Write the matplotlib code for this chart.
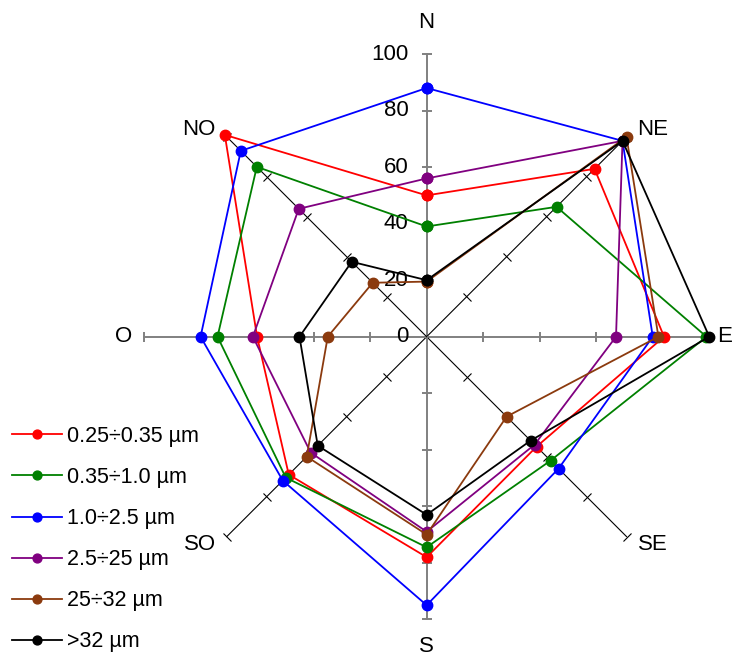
import numpy as np
import matplotlib.pyplot as plt
from matplotlib.markers import MarkerStyle
from matplotlib.transforms import Affine2D

plt.rcParams['font.family'] = ['Liberation Sans', 'DejaVu Sans']

# directions (clockwise from north)
directions = ['N', 'NE', 'E', 'SE', 'S', 'SO', 'O', 'NO']
angles_deg = [0, 45, 90, 135, 180, 225, 270, 315]
radial_ticks = [0, 20, 40, 60, 80, 100]

series_labels = ['0.25÷0.35 µm', '0.35÷1.0 µm', '1.0÷2.5 µm',
                 '2.5÷25 µm', '25÷32 µm', '>32 µm']
series_colors = ['#ff0000', '#008000', '#0000ff', '#800080', '#8b3a0e', '#000000']

# values, order N, NE, E, SE, S, SO, O, NO
red_vals = [50, 84, 84, 55, 78, 69, 60, 101]
green_vals = [39, 65, 99, 62, 74.5, 70.5, 74, 85]
blue_vals = [88, 98, 80, 66, 95, 72, 80, 93]
purple_vals = [56, 98, 67, 54, 69, 58, 61.5, 64]
brown_vals = [19.5, 100, 82, 40, 70, 60, 35, 27]
black_vals = [20, 98, 100, 52, 63, 54.5, 45, 37.5]
all_vals = [red_vals, green_vals, blue_vals, purple_vals, brown_vals, black_vals]

fig = plt.figure(figsize=(7.36, 6.57), dpi=100)
ax = fig.add_axes([0.1957, 0.0572, 0.768, 0.8606], projection='polar')
ax.set_theta_zero_location('N')
ax.set_theta_direction(-1)
ax.set_ylim(0, 100)
ax.axis('off')

theta = np.deg2rad(angles_deg)

# spokes with tick marks
for ang, name in zip(angles_deg, directions):
    t = np.deg2rad(ang)
    main = ang % 90 == 0
    col = '#808080' if main else 'black'
    lw = 1.4 if main else 0.8
    ax.plot([t, t], [0, 100], color=col, lw=lw, zorder=1, clip_on=False)
    tick = MarkerStyle('_', transform=Affine2D().rotate_deg(-ang))
    ax.plot([t] * 5, radial_ticks[1:], ls='none', marker=tick, ms=7.5,
            mec=col, mew=lw, zorder=1, clip_on=False)

# direction labels
label_offsets = {'N': (0, 32, 'center'), 'NE': (11, 7, 'left'), 'E': (8, 0, 'left'),
                 'SE': (11, -8, 'left'), 'S': (0, -27, 'center'), 'SO': (-11, -8, 'right'),
                 'O': (-12, 0, 'right'), 'NO': (-11, 7, 'right')}
for ang, name in zip(angles_deg, directions):
    dx, dy, ha = label_offsets[name]
    ax.annotate(name, xy=(np.deg2rad(ang), 100), xytext=(dx, dy),
                textcoords='offset pixels', ha=ha, va='center', fontsize=16,
                annotation_clip=False)

# radial labels along N axis
for r in radial_ticks:
    ax.annotate(str(r), xy=(0, r), xytext=(-18, 0), textcoords='offset pixels',
                ha='right', va='center', fontsize=16, annotation_clip=False)

# series
theta_closed = np.append(theta, theta[0])
for vals, lab, col in zip(all_vals, series_labels, series_colors):
    v = np.append(vals, vals[0])
    ax.plot(theta_closed, v, color=col, lw=1.3, marker='o', ms=7.5,
            label=lab, zorder=3, clip_on=False)

fig.legend(loc='upper left', bbox_to_anchor=(12 / 736, 1 - 426 / 657),
           frameon=False, fontsize=15.5, handlelength=2.32, handletextpad=0.23,
           labelspacing=0.93, borderpad=0, borderaxespad=0, markerscale=0.85)

fig.savefig('out.png', dpi=100)
